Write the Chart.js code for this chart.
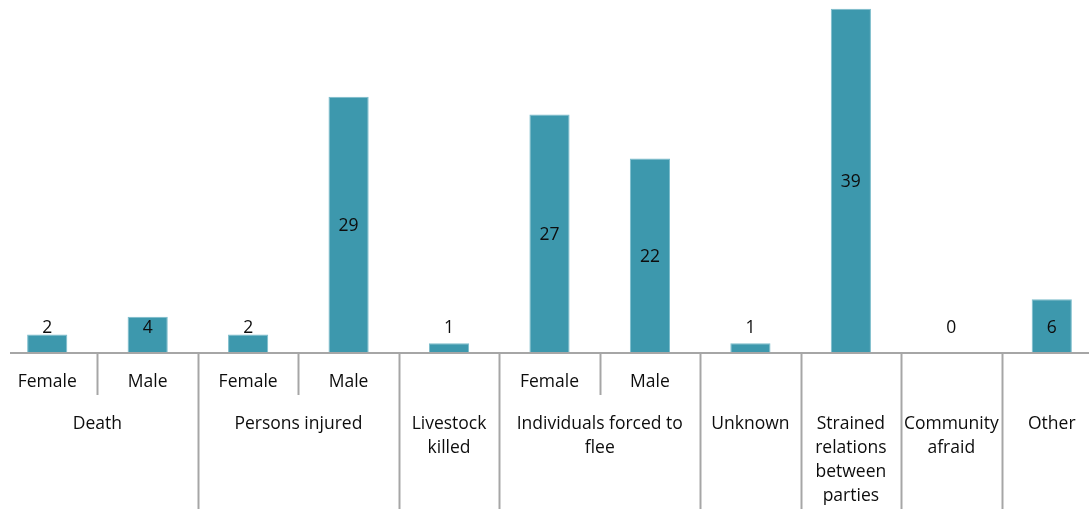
<!DOCTYPE html>
<html>
<head>
<meta charset="utf-8">
<script src="https://cdn.jsdelivr.net/npm/chart.js@4"></script>
<style>
  html, body { margin: 0; padding: 0; background: #fff; overflow: hidden; }
  #wrap { position: absolute; left: -3px; top: 0; width: 1105px; height: 509px; }
</style>
</head>
<body>
<div id="wrap"><canvas id="impact_chart"></canvas></div>
<script>
const subLabels = ['Female', 'Male', 'Female', 'Male', '', 'Female', 'Male', '', '', '', ''];
const groupLabels = ['Death', 'Persons injured', 'Livestock killed', 'Individuals forced to flee',
    'Unknown', 'Strained relations between parties', 'Community afraid', 'Other'];
const groupSpans = [2, 2, 1, 2, 1, 1, 1, 1];
const counts = [2, 4, 2, 29, 1, 27, 22, 1, 39, 0, 6];

const FONT = '17.5px "Open Sans", "Noto Sans", sans-serif';
const GRID = '#a6a6a6';

function wrapText(ctx, text, maxWidth) {
    const words = text.split(' ');
    const lines = [];
    let line = '';
    words.forEach(word => {
        const test = line ? line + ' ' + word : word;
        if (ctx.measureText(test).width > maxWidth && line) {
            lines.push(line);
            line = word;
        } else {
            line = test;
        }
    });
    if (line) lines.push(line);
    return lines;
}

const groupAxis = {
    id: 'groupAxis',
    afterDatasetsDraw(chart) {
        const ctx = chart.ctx;
        const x = chart.scales.x;
        const y = chart.scales.y;
        const base = y.getPixelForValue(0);
        const step = x.getPixelForValue(1) - x.getPixelForValue(0);
        const bottom = chart.height;

        ctx.save();
        ctx.font = FONT;
        ctx.fillStyle = '#0d0d0d';
        ctx.textAlign = 'center';
        ctx.textBaseline = 'middle';

        // value labels
        const meta = chart.getDatasetMeta(0);
        meta.data.forEach((bar, i) => {
            const mid = (bar.y + bar.base) / 2;
            ctx.fillText(String(counts[i]), bar.x, Math.min(mid + 2, base - 24));
        });

        // axis line
        ctx.strokeStyle = GRID;
        ctx.lineWidth = 2;
        ctx.beginPath();
        ctx.moveTo(13, base + 1);
        ctx.lineTo(chart.width, base + 1);
        ctx.stroke();

        // sub labels
        subLabels.forEach((lab, i) => {
            if (lab) ctx.fillText(lab, x.getPixelForValue(i), base + 30);
        });

        // groups
        let start = 0;
        groupLabels.forEach((g, gi) => {
            const span = groupSpans[gi];
            const left = x.getPixelForValue(start) - step / 2;
            const right = left + span * step;
            const cx = (left + right) / 2;
            const lines = wrapText(ctx, g, span * step - 10);
            lines.forEach((ln, li) => ctx.fillText(ln, cx, base + 72 + li * 24));

            ctx.beginPath();
            ctx.moveTo(Math.round(left) + 0.5, base + 2);
            ctx.lineTo(Math.round(left) + 0.5, bottom);
            ctx.stroke();
            for (let k = 1; k < span; k++) {
                const sx = Math.round(left + k * step) + 0.5;
                ctx.beginPath();
                ctx.moveTo(sx, base + 2);
                ctx.lineTo(sx, base + 43);
                ctx.stroke();
            }
            start += span;
        });
        ctx.restore();
    }
};

new Chart(document.getElementById('impact_chart').getContext('2d'), {
    type: 'bar',
    data: {
        labels: subLabels.map((s, i) => s || String(i)),
        datasets: [{
            data: counts,
            backgroundColor: '#3d98ad',
            borderColor: '#7bbccb',
            borderWidth: 1,
            barPercentage: 0.4,
            categoryPercentage: 1.0,
        }],
    },
    options: {
        responsive: true,
        maintainAspectRatio: false,
        animation: false,
        layout: { padding: { top: 0, bottom: 157, left: 0, right: 0 } },
        scales: {
            x: { display: false },
            y: { display: false, min: 0, max: 40 },
        },
        plugins: {
            legend: { display: false },
            title: { display: false },
            tooltip: { enabled: false },
        },
    },
    plugins: [groupAxis],
});
</script>
</body>
</html>
